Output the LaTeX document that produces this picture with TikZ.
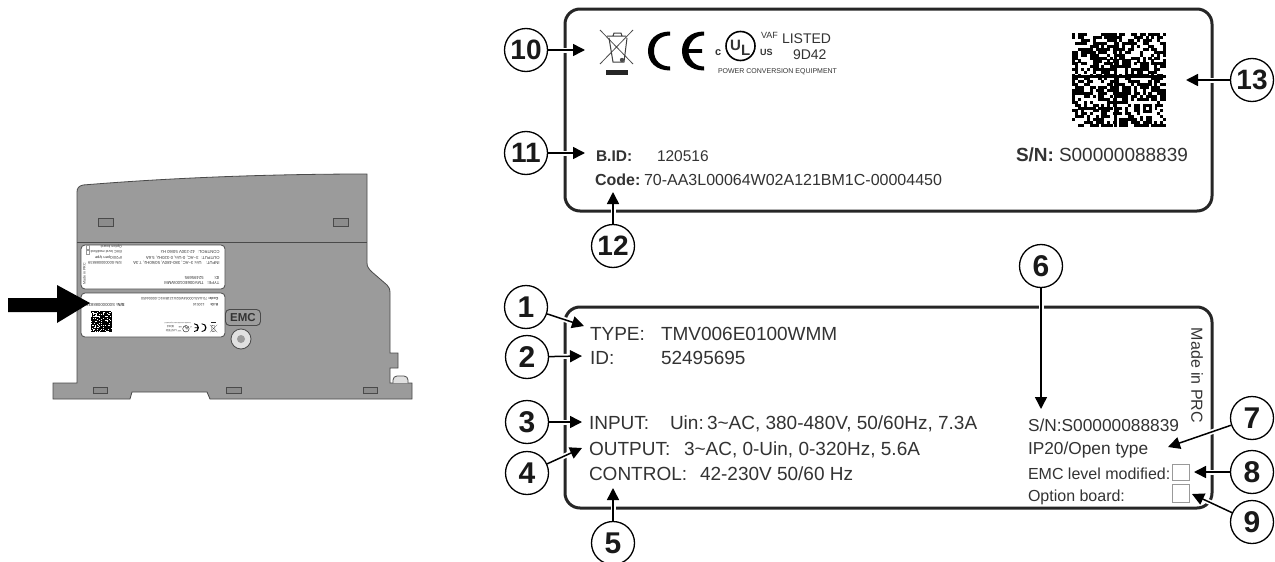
\documentclass[tikz,border=0pt]{standalone}
\usepackage{fontspec}
\setmainfont{Liberation Sans}
\usetikzlibrary{arrows.meta}
\definecolor{devgray}{HTML}{9B9B9B}
\definecolor{devdark}{HTML}{4A4A4A}
\definecolor{slotgray}{HTML}{8C8C8C}
\definecolor{inktext}{HTML}{333333}
\newcommand{\fs}[1]{\fontsize{#1}{#1}\selectfont}
\newcommand{\lwk}{1}
\tikzset{
  txt/.style={anchor=base west,inner sep=0pt,outer sep=0pt,text=inktext},
  num/.style={circle,draw=black,line width=1.3pt,fill=white,minimum size=43pt,inner sep=0pt,text=black!90,font=\bfseries\fs{30}},
  numw/.style={num,font=\bfseries\fs{28}},
  callout/.style={line width=1.5pt,-{Triangle[length=12pt,width=12pt]},
    preaction={draw=white,line width=5pt,-,shorten <=3pt,shorten >=3pt}},
  frame/.style={rounded corners=15pt,draw=black!85,line width=3pt,fill=white},
  slot/.style={draw=devdark,line width=.8pt,fill=slotgray},
  mini/.style={rounded corners=4pt,draw=devdark,line width=.8pt,fill=white},
  cbox/.style={draw=black!40,line width=.8pt},
}
\newcommand{\tx}[5][]{\node[txt,font=#2,#1] (#3) at #4 {#5};}
\newcommand{\lowerlabel}{%
  \tx{\fs{19}}{type}{(590,340)}{TYPE:}
  \tx{\fs{19}}{typev}{(661,340)}{TMV006E0100WMM}
  \tx{\fs{19}}{id}{(590,364)}{ID:}
  \tx{\fs{19}}{idv}{(661,364)}{52495695}
  \tx{\fs{19}}{input}{(589,429)}{INPUT:}
  \tx{\fs{19}}{inputu}{(670,429)}{Uin:}
  \tx{\fs{19}}{inputv}{(707,429)}{3\textasciitilde AC, 380-480V, 50/60Hz, 7.3A}
  \tx{\fs{19}}{output}{(589,455)}{OUTPUT:}
  \tx{\fs{19}}{outputv}{(684,455)}{3\textasciitilde AC, 0-Uin, 0-320Hz, 5.6A}
  \tx{\fs{19}}{control}{(589,480)}{CONTROL:}
  \tx{\fs{19}}{controlv}{(700,480)}{42-230V 50/60 Hz}
  \tx{\fs{17.3}}{sn}{(1028,431)}{S/N:S00000088839}
  \tx{\fs{17.3}}{ip}{(1028,454)}{IP20/Open type}
  \tx{\fs{16}}{emcl}{(1028,479)}{EMC level modified:}
  \tx{\fs{16}}{opt}{(1028,501)}{Option board:}
  \node[font=\fs{16},text=inktext,inner sep=0pt,rotate=-90] (prc) at (1197,375.5) {Made in PRC};
  \draw[cbox] (1172,464) rectangle (1189,480);
  \draw[cbox] (1172,484) rectangle (1189,502);
}
\newcommand{\upperlabel}{%
  \draw[black!70,line width=.8pt*\lwk] (600,30) -- (633,64) (633,30) -- (600,64);
  \draw[black!75,line width=1pt*\lwk] (607,36) -- (626,36) (609,38) -- (613,62) -- (624,62) -- (627,38) (613,36) -- (614,33) -- (621,33) -- (622,36);
  \fill[black!70] (622,60) circle (2.2);
  \fill[black!85] (606,70) rectangle (628,74.5);
  \fill[black] (670,31.5) .. controls (656,31.5) and (648,40) .. (648,51) .. controls (648,62) and (656,70.5) .. (670,70.5) -- (670,66.5) .. controls (660,66.5) and (654,60) .. (654,51) .. controls (654,42) and (660,35.5) .. (670,35.5) -- cycle;
  \fill[black] (704,31.5) .. controls (690,31.5) and (682,40) .. (682,51) .. controls (682,62) and (690,70.5) .. (704,70.5) -- (704,66.5) .. controls (695,66.5) and (689.5,60) .. (688.5,52.8) -- (702,52.8) -- (702,49.2) -- (688.5,49.2) .. controls (689.5,42) and (695,35.5) .. (704,35.5) -- cycle;
  \node[circle,draw=black,line width=1.6pt*\lwk,minimum size=29pt,inner sep=0pt] (ul) at (740.5,46) {};
  \tx{\bfseries\fs{15}}{ulu}{(730,50)}{U}
  \tx{\bfseries\fs{15}}{ull}{(741,55)}{L}
  \tx{\bfseries\fs{11}}{ulc}{(715,55)}{c}
  \tx{\bfseries\fs{9}}{ulus}{(760,55)}{US}
  \tx{\fs{9}}{vaf}{(761,38)}{VAF}
  \tx{\fs{14}}{listed}{(782,43)}{LISTED}
  \tx{\fs{14}}{ninedd}{(793,59)}{9D42}
  \tx{\fs{7}}{pce}{(718,73)}{POWER CONVERSION EQUIPMENT}
  \tx{\bfseries\fs{15.5}}{bid}{(596,161)}{B.ID:}
  \tx{\fs{15.5}}{bidv}{(657,161)}{120516}
  \tx{\bfseries\fs{16}}{code}{(595,185)}{Code:}
  \tx{\fs{16}}{codev}{(644,185)}{70-AA3L00064W02A121BM1C-00004450}
  \tx{\bfseries\fs{19}}{snl}{(1016,161)}{S/N:}
  \tx{\fs{19}}{snv}{(1059,161)}{S00000088839}
  \pgfmathsetseed{4711}
  \foreach \i in {0,...,31}{\foreach \j in {0,...,31}{%
    \pgfmathrandominteger{\rr}{0}{99}
    \ifnum\rr<56\relax
      \fill[black] (1072+\i*2.94,33+\j*2.94) rectangle +(3.05,3.05);
    \fi}}
  \fill[black] (1072,75) rectangle (1166,78);
  \fill[black] (1114,33) rectangle (1117,127);
  \fill[white] (1140,101) rectangle (1155,116);
  \fill[black] (1143,104) rectangle (1152,113);
  \fill[white] (1146,107) rectangle (1149,110);
}
\begin{document}
\begin{tikzpicture}[x=1pt,y=-1pt]
\useasboundingbox[fill=white] (0,0) rectangle (1275,562);
\fill[draw=devdark,line width=.8pt,fill=devgray]
  (77,192) .. controls (77,188) and (79,186) .. (83,185) .. controls (180,177) and (280,174) .. (367,174)
  -- (367,263) .. controls (367,267) and (369,269) .. (372,272) -- (387,285) .. controls (389,287) and (390,289) .. (390,293)
  -- (390,353) -- (398,353) -- (398,368) -- (390,368) -- (390,383) -- (412,383) -- (412,399) -- (210,399) -- (207,392)
  -- (132,392) -- (130,399) -- (53,399) -- (53,383) -- (77,383) -- cycle;
\draw[devdark,line width=.8pt] (77,242) -- (367,242);
\draw[draw=devdark,line width=.8pt,fill=black!12,rounded corners=4pt] (393,383) -- (393,376) -- (408,376) -- (408,383);
\draw[slot] (98,218) rectangle (113,226);
\draw[slot] (333,218) rectangle (348,226);
\draw[slot] (93,387) rectangle (107,393);
\draw[slot] (226,387) rectangle (241,393);
\draw[slot] (363,387) rectangle (377,393);
\draw[mini] (81,245) rectangle (225,289);
\draw[mini] (81,293) rectangle (225,337);
\begin{scope}[name prefix=miniA-,shift={(225,289)},rotate=180,scale=.2226,transform shape,shift={(-565,-307)}]
  \renewcommand{\lwk}{.22}
  \lowerlabel
\end{scope}
\begin{scope}[name prefix=miniB-,shift={(225,337)},rotate=180,scale=.2226,transform shape,shift={(-565,-9)}]
  \renewcommand{\lwk}{.22}
  \upperlabel
\end{scope}
\node[draw=devdark,line width=.9pt,fill=slotgray!85,rounded corners=4pt,minimum width=35pt,minimum height=16pt,inner sep=0pt,font=\bfseries\fs{11.5},text=black!80] (emc) at (243,317.5) {EMC};
\node[circle,draw=devdark,line width=.8pt,fill=black!12,minimum size=20pt,inner sep=0pt] (screw) at (241,339) {};
\node[circle,fill=devgray,minimum size=8pt,inner sep=0pt] (screwin) at (241,339) {};
\fill[black] (8,298) -- (57,298) -- (57,285) -- (90,303) -- (57,323) -- (57,312) -- (8,312) -- cycle;
\draw[frame] (565,9) rectangle (1212,211);
\draw[frame] (565,307) rectangle (1212,508);
\upperlabel
\lowerlabel
\node[num] (c1) at (526,307) {1};
\node[num] (c2) at (527,357) {2};
\node[num] (c3) at (527,422) {3};
\node[num] (c4) at (527,473) {4};
\node[num] (c5) at (613,543) {5};
\node[num] (c6) at (1041,266) {6};
\node[num] (c7) at (1252,418) {7};
\node[num] (c8) at (1252,472) {8};
\node[num] (c9) at (1252,522) {9};
\node[numw] (c10) at (526,50) {10};
\node[numw] (c11) at (526,153) {11};
\node[numw] (c12) at (613,246) {12};
\node[numw] (c13) at (1252,80) {13};
\coordinate (t1) at (584,326);
\coordinate (t2) at (582,356);
\coordinate (t3) at (582,422);
\coordinate (t4) at (582,448);
\coordinate (t5) at (613,488);
\coordinate (t6) at (1041,409);
\coordinate (t7) at (1168,447);
\coordinate (t8) at (1194,472);
\coordinate (t9) at (1192,494);
\coordinate (t10) at (585,50);
\coordinate (t11) at (585,153);
\coordinate (t12) at (613,192);
\coordinate (t13) at (1186,80);
\foreach \k in {1,...,13}{\draw[callout] (c\k) -- (t\k);}
\end{tikzpicture}
\end{document}
